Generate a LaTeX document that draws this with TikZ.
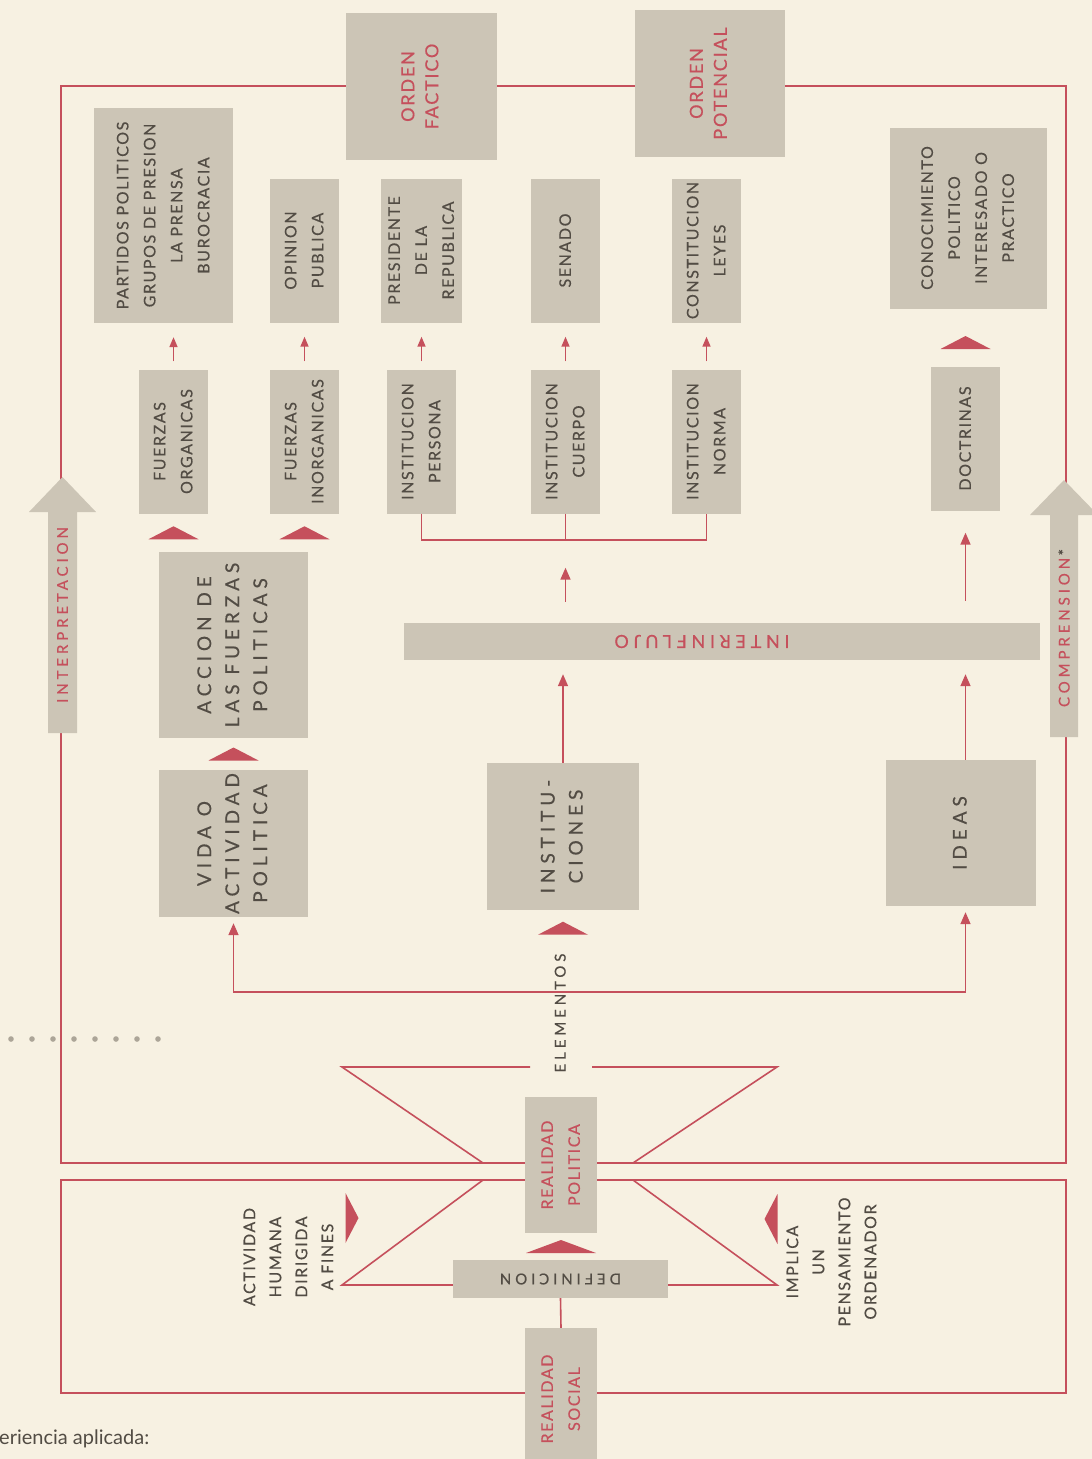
\documentclass[tikz,border=0pt]{standalone}
\usepackage{fontspec}
\setmainfont{Lato}
\newfontfamily\rotulo[LetterSpace=10,FakeBold=0.5]{Lato}
\newfontfamily\ancho[LetterSpace=26,FakeBold=0.5]{Lato}
\usepackage{graphicx}
\usetikzlibrary{arrows.meta,calc}

\definecolor{papel}{RGB}{247,241,226}
\definecolor{griscaja}{RGB}{204,197,182}
\definecolor{rojo}{RGB}{197,80,92}
\definecolor{tinta}{RGB}{82,76,68}
\definecolor{punto}{RGB}{172,165,152}

\newcommand{\vertical}[1]{\rotatebox{90}{\begin{tabular}{@{}c@{}}#1\end{tabular}}}
\newcommand{\invertido}[1]{\rotatebox{180}{#1}}

\tikzset{
  caja/.style={fill=griscaja, inner sep=0pt, text=tinta, font=\rotulo\fontsize{16}{27}\selectfont},
  cajaroja/.style={caja, text=rojo},
  grande/.style={caja, font=\ancho\fontsize{19}{28}\selectfont},
  columna/.style={caja, minimum width=69pt, minimum height=144pt},
  etiqueta/.style={inner sep=0pt, text=tinta, font=\rotulo\fontsize{16}{26}\selectfont},
  linea/.style={draw=rojo, line width=1.6pt},
  flecha/.style={linea, -{Triangle[width=10pt,length=12pt]}},
  punta/.pic={\fill[rojo] (-25,6.5) -- (25,6.5) -- (0,-6.5) -- cycle;}
}

\begin{document}
\begin{tikzpicture}[x=1pt,y=-1pt]
\fill[papel] (0,0) rectangle (1092,1459);
\useasboundingbox (0,0) rectangle (1092,1459);

% marcos
\draw[linea] (61,86) rectangle (1066,1163);
\draw[linea] (61,1180) rectangle (1066,1393);

% reloj
\draw[linea] (530,1067) -- (342,1067) -- (483,1163);
\draw[linea] (592,1067) -- (777,1067) -- (633,1163);
\draw[linea] (483,1180) -- (342,1285) -- (777,1285) -- (633,1180);

% puntos del margen
\foreach \i in {0,...,7}
  \fill[punto] (11+21*\i,1039) circle (2.8pt);

% flechas grandes
\fill[griscaja] (48,733) -- (48,512) -- (29,512) -- (62.5,477) -- (96,512) -- (77,512) -- (77,733) -- cycle;
\fill[griscaja] (1050,737) -- (1050,515) -- (1030,515) -- (1064,480) -- (1098,515) -- (1078,515) -- (1078,737) -- cycle;
\node[rotate=90, inner sep=0pt, text=rojo, font=\ancho\fontsize{15}{18}\selectfont] (interpretacion) at (62.5,615) {INTERPRETACION};
\node[rotate=90, inner sep=0pt, text=rojo, font=\ancho\fontsize{15}{18}\selectfont] (comprension) at (1064,628) {COMPRENSION\,{\color{tinta}*}};

% orden
\node[cajaroja, minimum width=151pt, minimum height=147pt, font=\rotulo\fontsize{18}{24}\selectfont] (factico) at (421.5,86.5) {\vertical{ORDEN\\FACTICO}};
\node[cajaroja, minimum width=150pt, minimum height=147pt, font=\rotulo\fontsize{18}{24}\selectfont] (potencial) at (710,83.5) {\vertical{ORDEN\\POTENCIAL}};

% fila de arriba
\node[caja, minimum width=139pt, minimum height=215pt] (partidos) at (163.5,215.5) {\vertical{PARTIDOS POLITICOS\\GRUPOS DE PRESION\\LA PRENSA\\BUROCRACIA}};
\node[columna] (opinion) at (304.5,250.5) {\vertical{OPINION\\PUBLICA}};
\node[columna] (presidente) at (421.5,250.5) {\vertical{PRESIDENTE\\DE LA\\REPUBLICA}};
\node[columna] (senado) at (565.5,250.5) {\vertical{SENADO}};
\node[columna] (constitucion) at (706.5,250.5) {\vertical{CONSTITUCION\\LEYES}};
\node[caja, minimum width=157pt, minimum height=181pt] (conocimiento) at (968,218) {\vertical{CONOCIMIENTO\\POLITICO\\INTERESADO O\\PRACTICO}};

% segunda fila
\node[columna] (organicas) at (173.5,441.5) {\vertical{FUERZAS\\ORGANICAS}};
\node[columna] (inorganicas) at (304.5,441.5) {\vertical{FUERZAS\\INORGANICAS}};
\node[columna] (persona) at (421.5,441.5) {\vertical{INSTITUCION\\PERSONA}};
\node[columna] (cuerpo) at (565.5,441.5) {\vertical{INSTITUCION\\CUERPO}};
\node[columna] (norma) at (706.5,441.5) {\vertical{INSTITUCION\\NORMA}};
\node[columna] (doctrinas) at (965.5,438.5) {\vertical{DOCTRINAS}};

% bloques centrales
\node[grande, minimum width=149pt, minimum height=186pt] (accion) at (233.5,645) {\vertical{ACCION DE\\LAS FUERZAS\\POLITICAS}};
\node[caja, minimum width=636pt, minimum height=37pt, text=rojo, font=\ancho\fontsize{18}{20}\selectfont] (interinflujo) at (722,641.5) {\invertido{\hspace{40pt}INTERINFLUJO}};
\node[grande, minimum width=149pt, minimum height=147pt] (vida) at (233.5,843.5) {\vertical{VIDA O\\ACTIVIDAD\\POLITICA}};
\node[grande, minimum width=152pt, minimum height=147pt] (instituciones) at (563,836.5) {\vertical{INSTITU-\\CIONES}};
\node[grande, minimum width=150pt, minimum height=146pt] (ideas) at (961,833) {\vertical{IDEAS}};

% parte baja
\node[etiqueta, font=\ancho\fontsize{15}{18}\selectfont] (elementos) at (562,1013) {\vertical{ELEMENTOS}};
\node[cajaroja, minimum width=72pt, minimum height=136pt] (rpolitica) at (561,1165) {\vertical{REALIDAD\\POLITICA}};
\node[caja, minimum width=215pt, minimum height=38pt, font=\ancho\fontsize{15}{18}\selectfont] (definicion) at (560.5,1279) {\invertido{DEFINICION}};
\node[cajaroja, minimum width=72pt, minimum height=142pt] (rsocial) at (561,1399) {\vertical{REALIDAD\\SOCIAL}};
\node[etiqueta] (fines) at (289,1257) {\vertical{ACTIVIDAD\\HUMANA\\DIRIGIDA\\A FINES}};
\node[etiqueta] (implica) at (832,1262) {\vertical{IMPLICA\\UN\\PENSAMIENTO\\ORDENADOR}};
\node[anchor=base west, inner sep=0pt, text=tinta, font=\fontsize{20}{24}\selectfont] (pie) at (-1,1444) {eriencia aplicada:};

% flechas pequenas
\foreach \a/\b in {organicas/partidos, inorganicas/opinion, persona/presidente, cuerpo/senado, norma/constitucion}
  \draw[flecha, -{Triangle[width=8pt,length=10pt]}, shorten <=8pt, shorten >=14pt] (\a.north) -- (\a.north |- \b.south);

% llave de instituciones
\coordinate (llave) at ($(cuerpo.south)+(0,26)$);
\draw[linea] (persona.south) -- (persona.south |- llave) -- (norma.south |- llave) -- (norma.south);
\draw[linea] (cuerpo.south) -- (llave);
\draw[flecha, shorten <=21pt, shorten >=28pt] (interinflujo.north -| llave) -- (llave);
\draw[flecha, shorten <=22pt, shorten >=22pt] (interinflujo.north -| doctrinas.south) -- (doctrinas.south);

% hacia el interinflujo
\draw[flecha, shorten >=14pt] (instituciones.north) -- (instituciones.north |- interinflujo.south);
\draw[flecha, shorten >=14pt] (ideas.north -| doctrinas.south) -- (doctrinas.south |- interinflujo.south);

% elementos
\coordinate (rama) at (563,992);
\draw[flecha, shorten >=6pt] (rama) -| (vida.south);
\draw[flecha, shorten >=6pt] (rama) -| (ideas.south -| doctrinas.south);
\draw[linea] (definicion.south) -- (rsocial.north);

% puntas
\pic at ($(doctrinas.north)!0.5!(doctrinas.north |- conocimiento.south)+(0,5)$) {punta};
\pic at ($(organicas.south)!0.5!(organicas.south |- accion.north)$) {punta};
\pic at ($(inorganicas.south)!0.5!(inorganicas.south |- accion.north)$) {punta};
\pic at ($(vida.north)!0.5!(accion.south)$) {punta};
\pic at ($(instituciones.south)+(0,18)$) {punta};
\pic[xscale=1.4] at ($(rpolitica.south)!0.5!(rpolitica.south |- definicion.north)$) {punta};
\pic[rotate=-90] at (352,1218) {punta};
\pic[rotate=90] at (771,1219) {punta};
\end{tikzpicture}
\end{document}
